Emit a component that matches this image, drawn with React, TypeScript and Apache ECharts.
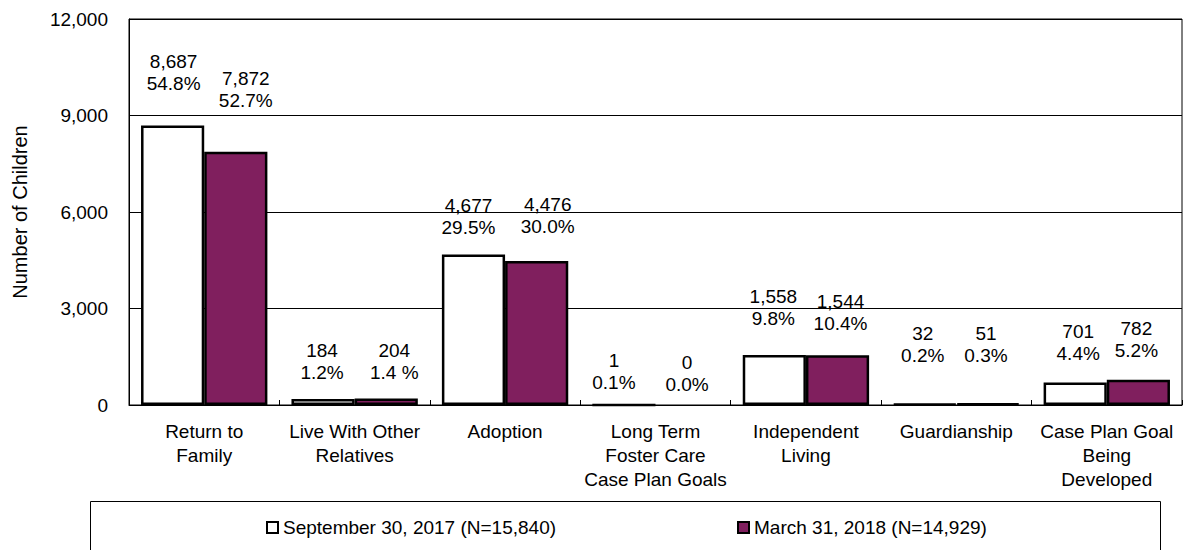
import React, { useEffect, useRef } from "react";
import * as echarts from "echarts";

const categories = [
  "Return to\nFamily",
  "Live With Other\nRelatives",
  "Adoption",
  "Long Term\nFoster Care\nCase Plan Goals",
  "Independent\nLiving",
  "Guardianship",
  "Case Plan Goal\nBeing\nDeveloped",
];
const seriesNames = ["September 30, 2017 (N=15,840)", "March 31, 2018 (N=14,929)"];
const sept2017 = [8687, 184, 4677, 1, 1558, 32, 701];
const mar2018 = [7872, 204, 4476, 0, 1544, 51, 782];
const sept2017Pct = ["54.8%", "1.2%", "29.5%", "0.1%", "9.8%", "0.2%", "4.4%"];
const mar2018Pct = ["52.7%", "1.4 %", "30.0%", "0.0%", "10.4%", "0.3%", "5.2%"];
const yTicks = { min: 0, max: 12000, interval: 3000 };

// label placement tweaks (layout only), [dx, dy]
const sept2017LabelOffsets = [
  [1, -31], [-1, -16], [-5, -16], [-10, -10], [-1, -25], [-2, -37], [3, -18],
];
const mar2018LabelOffsets = [
  [10, -40], [8, -15], [11, -24], [0, -10], [3, -21], [-2, -36], [-2, -18],
];

const FONT = "'Liberation Sans', Arial, sans-serif";
const PURPLE = "#801F5E";

const fmt = (v: number) => v.toLocaleString("en-US");

function buildData(values: number[], pcts: string[], offsets: number[][]) {
  return values.map((v, i) => ({
    value: v,
    itemStyle: v === 0 ? { borderWidth: 0 } : undefined,
    label: { offset: offsets[i], formatter: `${fmt(v)}\n${pcts[i]}` },
  }));
}

export default function App() {
  const ref = useRef<HTMLDivElement>(null);
  useEffect(() => {
    if (!ref.current) return;
    const chart = echarts.init(ref.current, undefined, { renderer: "svg" });
    const labelBase = {
      show: true,
      position: "top",
      distance: 0,
      color: "#000",
      fontSize: 19,
      lineHeight: 22,
      fontFamily: FONT,
    };
    const legendBase = {
      top: 518,
      padding: 0,
      itemWidth: 11,
      itemHeight: 11,
      icon: "rect",
      itemStyle: { borderColor: "#000", borderWidth: 2 },
      textStyle: { fontSize: 19, color: "#000", fontFamily: FONT },
    };
    chart.setOption({
      animation: false,
      textStyle: { fontFamily: FONT, color: "#000" },
      grid: {
        left: 129,
        right: 13,
        top: 19,
        bottom: 145,
        show: true,
        borderColor: "#000",
        borderWidth: 1,
        backgroundColor: "transparent",
      },
      legend: [
        { ...legendBase, data: [seriesNames[0]], left: 266 },
        { ...legendBase, data: [seriesNames[1]], left: 737 },
      ],
      graphic: [
        {
          type: "rect",
          shape: { x: 90.5, y: 501.5, width: 1070, height: 80 },
          style: { fill: "none", stroke: "#000", lineWidth: 1 },
          silent: true,
        },
      ],
      xAxis: {
        type: "category",
        data: categories,
        axisLine: { lineStyle: { color: "#000", width: 1 } },
        axisTick: { show: true, inside: true, length: 5, lineStyle: { color: "#000" } },
        axisLabel: {
          color: "#000",
          fontSize: 19,
          lineHeight: 24,
          margin: 14,
          interval: 0,
          fontFamily: FONT,
        },
      },
      yAxis: {
        type: "value",
        min: yTicks.min,
        max: yTicks.max,
        interval: yTicks.interval,
        name: "Number of Children",
        nameLocation: "middle",
        nameGap: 99,
        nameTextStyle: { fontSize: 20, color: "#000", fontFamily: FONT },
        axisLine: { show: true, lineStyle: { color: "#000", width: 1 } },
        axisTick: { show: false },
        axisLabel: {
          color: "#000",
          fontSize: 19,
          margin: 21,
          fontFamily: FONT,
          formatter: (v: number) => fmt(v),
        },
        splitLine: { show: true, lineStyle: { color: "#000", width: 1 } },
      },
      series: [
        {
          name: seriesNames[0],
          type: "bar",
          barGap: "0%",
          barCategoryGap: "16%",
          itemStyle: { color: "#fff", borderColor: "#000", borderWidth: 2.5 },
          label: labelBase,
          data: buildData(sept2017, sept2017Pct, sept2017LabelOffsets),
        },
        {
          name: seriesNames[1],
          type: "bar",
          barGap: "0%",
          barCategoryGap: "16%",
          itemStyle: { color: PURPLE, borderColor: "#000", borderWidth: 2.5 },
          label: labelBase,
          data: buildData(mar2018, mar2018Pct, mar2018LabelOffsets),
        },
      ],
    });
    return () => chart.dispose();
  }, []);
  return (
    <div
      ref={ref}
      style={{ position: "fixed", left: 0, top: 0, width: 1195, height: 550, background: "#fff" }}
    />
  );
}
